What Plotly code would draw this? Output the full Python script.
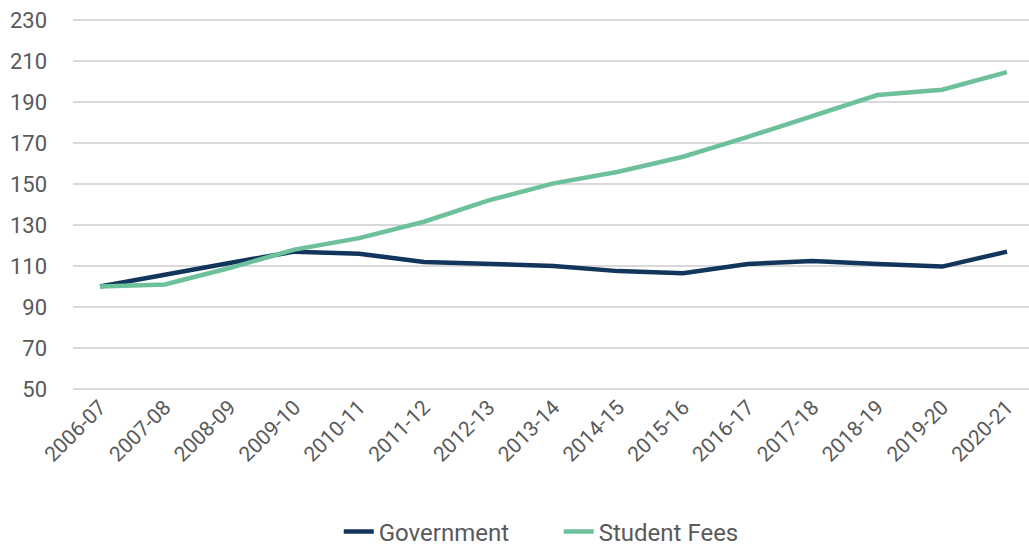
import plotly.graph_objects as go

years = ["2006-07", "2007-08", "2008-09", "2009-10", "2010-11", "2011-12", "2012-13",
         "2013-14", "2014-15", "2015-16", "2016-17", "2017-18", "2018-19", "2019-20", "2020-21"]
government = [100, 106, 111.5, 117, 116, 112, 111, 110, 107.5, 106.5, 111, 112.5, 111, 109.7, 117]
student_fees = [100, 101, 109, 118, 123.6, 131.6, 142, 150.3, 156, 163.3, 173, 183, 193.4, 196, 204.6]
y_ticks = [50, 70, 90, 110, 130, 150, 170, 190, 210, 230]

fig = go.Figure()
fig.add_trace(go.Scatter(x=years, y=government, name="Government", mode="lines",
                         line=dict(color="#12355B", width=4.5)))
fig.add_trace(go.Scatter(x=years, y=student_fees, name="Student Fees", mode="lines",
                         line=dict(color="#6CC19A", width=4.5)))

fig.update_layout(
    width=1029, height=546,
    margin=dict(l=73, r=0, t=18, b=156, autoexpand=False),
    paper_bgcolor="white", plot_bgcolor="white",
    font=dict(family="Roboto", size=22, color="#595959"),
    legend=dict(orientation="h", xref="container", yref="container",
                x=0.543, xanchor="center", y=0.026, yanchor="middle",
                entrywidth=175, entrywidthmode="pixels",
                font=dict(size=24, color="#595959")),
    showlegend=True,
)
fig.update_xaxes(type="category", range=[-0.417, 14.34], tickangle=-45,
                 showgrid=False, showline=False, ticks="", tickfont=dict(size=21),
                 automargin=False)
fig.update_yaxes(range=[49.5, 231], tickvals=y_ticks, showgrid=True, gridcolor="#D9D9D9",
                 gridwidth=1.5, zeroline=False, showline=False, ticks="",
                 tickfont=dict(size=22), ticklabelstandoff=25, automargin=False,
                 ticklabeloverflow="allow")

fig.write_html("out.html", config={"displayModeBar": False},
               post_script="document.body.style.margin='0';document.body.style.overflow='hidden';")
